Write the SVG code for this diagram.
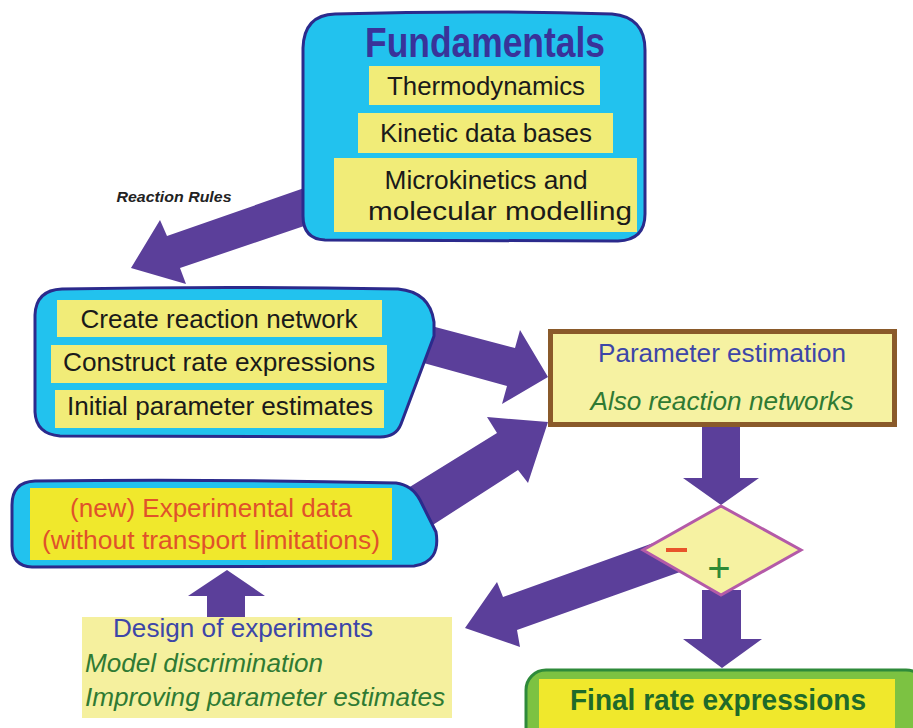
<svg xmlns="http://www.w3.org/2000/svg" width="913" height="728" viewBox="0 0 913 728">
<style>
.blob{fill:#22c2ee;stroke:#2b2a8c;stroke-width:3;stroke-linejoin:round}
.ybox{fill:#f1ec78}
.arrow{fill:#5b3f9a}
.t{font-family:"Liberation Sans",Arial,sans-serif;font-size:26px;fill:#1a1a1a;text-anchor:middle}
.blue{fill:#3d46a8}
.green{fill:#2f7a33;font-style:italic}
.red{fill:#e0522a}
</style>
<rect width="913" height="728" fill="#ffffff"/>
<g id="connectors">
<polygon class="arrow" points="131,268 160,220 167,236 310,186 310,224 180,268 186,284"/>
<polygon class="arrow" points="548,377 520,330 515,348 420,323 420,362 507,386 502,404"/>
<polygon class="arrow" points="548,422 487,417 497,433 400,493 425,530 518,470 528,483"/>
<polygon class="arrow" points="702,425 740,425 740,478 759,478 721,505 683,478 702,478"/>
<polygon class="arrow" points="465,628 497,582 503,597 670,537 680,572 517,630 520,647"/>
<polygon class="arrow" points="702,590 741,590 741,639 762,639 722,668 683,639 702,639"/>
<polygon class="arrow" points="207,620 245,620 245,596 265,596 227,570 188,596 207,596"/>
</g>
<g id="fundamentals">
<path class="blob" d="M335,14 Q480,10 612,14 Q645,17 645,50 L645,214 Q645,240 618,241 L325,240 Q303,239 303,216 L303,48 Q304,15 335,14 Z"/>
<text x="485" y="57" style="font-family:'Liberation Sans',Arial,sans-serif;font-weight:bold;font-size:43px;fill:#39339a;text-anchor:middle" textLength="240" lengthAdjust="spacingAndGlyphs">Fundamentals</text>
<rect class="ybox" x="369" y="66" width="231" height="39"/>
<text class="t" x="486" y="95" textLength="198" lengthAdjust="spacingAndGlyphs">Thermodynamics</text>
<rect class="ybox" x="358" y="113" width="255" height="40"/>
<text class="t" x="486" y="142" textLength="212" lengthAdjust="spacingAndGlyphs">Kinetic data bases</text>
<rect class="ybox" x="334" y="158" width="303" height="74"/>
<text class="t" x="486" y="189" textLength="203" lengthAdjust="spacingAndGlyphs">Microkinetics and</text>
<text class="t" x="500" y="220" textLength="264" lengthAdjust="spacingAndGlyphs">molecular modelling</text>
</g>
<g id="reaction-rules">
<text x="174" y="202" style="font-family:'Liberation Sans',Arial,sans-serif;font-weight:bold;font-style:italic;font-size:14px;fill:#222;text-anchor:middle" textLength="115" lengthAdjust="spacingAndGlyphs">Reaction Rules</text>
</g>
<g id="model-building">
<path class="blob" d="M62,289 Q230,286 398,289 Q430,292 434,322 L434,336 L401,424 Q396,437 380,437 L60,436 Q36,434 35,412 L35,315 Q36,290 62,289 Z"/>
<rect class="ybox" x="57" y="300" width="325" height="37"/>
<text class="t" x="219" y="328" textLength="277" lengthAdjust="spacingAndGlyphs">Create reaction network</text>
<rect class="ybox" x="51" y="345" width="336" height="38"/>
<text class="t" x="219" y="371" textLength="312" lengthAdjust="spacingAndGlyphs">Construct rate expressions</text>
<rect class="ybox" x="55" y="390" width="329" height="38"/>
<text class="t" x="220" y="415" textLength="306" lengthAdjust="spacingAndGlyphs">Initial parameter estimates</text>
</g>
<g id="parameter-estimation">
<rect x="550.5" y="331.5" width="344" height="93" fill="#f6f2a2" stroke="#8a5a2a" stroke-width="5"/>
<text class="t blue" x="722" y="362" textLength="248" lengthAdjust="spacingAndGlyphs">Parameter estimation</text>
<text class="t green" x="722" y="410" textLength="263" lengthAdjust="spacingAndGlyphs">Also reaction networks</text>
</g>
<g id="experimental-data">
<path class="blob" d="M35,481 Q220,479 396,483 Q412,485 420,500 L436,532 Q441,562 414,566 L32,567 Q12,566 12,546 L12,505 Q12,482 35,481 Z"/>
<rect x="30" y="488" width="362" height="72" fill="#f0e82c"/>
<text class="t red" x="211" y="517" textLength="282" lengthAdjust="spacingAndGlyphs">(new) Experimental data</text>
<text class="t red" x="211" y="549" textLength="338" lengthAdjust="spacingAndGlyphs">(without transport limitations)</text>
</g>
<g id="decision">
<polygon points="721,506 801,550 721,595 643,550" fill="#f6f2a2" stroke="#b45aa8" stroke-width="3" stroke-linejoin="miter"/>
<line x1="666" y1="550" x2="687" y2="550" stroke="#e8542a" stroke-width="4"/>
<text x="719" y="582" style="font-family:'Liberation Sans',Arial,sans-serif;font-size:40px;fill:#2f8a36;text-anchor:middle">+</text>
</g>
<g id="design">
<rect x="82" y="617" width="370" height="101" fill="#f5f09e"/>
<text class="t blue" x="243" y="637" textLength="260" lengthAdjust="spacingAndGlyphs">Design of experiments</text>
<text class="t green" x="85" y="672" style="text-anchor:start" textLength="238" lengthAdjust="spacingAndGlyphs">Model discrimination</text>
<text class="t green" x="85" y="706" style="text-anchor:start" textLength="360" lengthAdjust="spacingAndGlyphs">Improving parameter estimates</text>
</g>
<g id="final">
<rect x="526" y="670" width="400" height="80" rx="20" fill="#7cc242" stroke="#2e8a3a" stroke-width="3"/>
<rect x="539" y="679" width="356" height="60" fill="#f0e82c"/>
<text x="718" y="710" style="font-family:'Liberation Sans',Arial,sans-serif;font-weight:bold;font-size:30px;fill:#1f6a2a;text-anchor:middle" textLength="296" lengthAdjust="spacingAndGlyphs">Final rate expressions</text>
</g>
</svg>
